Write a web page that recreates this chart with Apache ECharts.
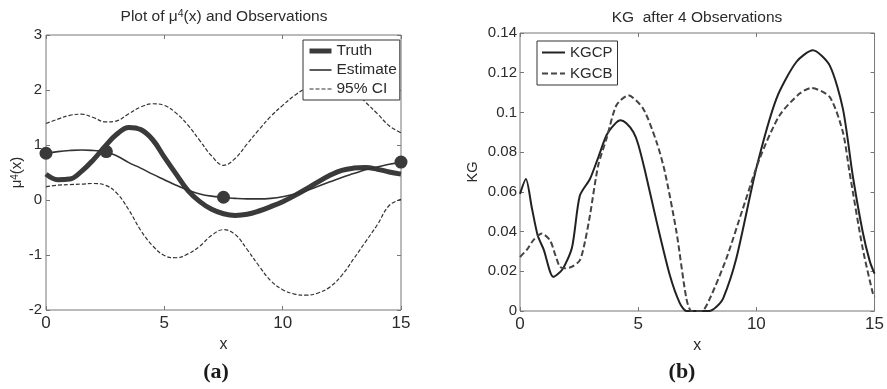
<!DOCTYPE html>
<html>
<head>
<meta charset="utf-8">
<script src="https://cdn.jsdelivr.net/npm/echarts@6/dist/echarts.min.js"></script>
<style>
  html, body { margin: 0; padding: 0; background: #fff; }
  #main { width: 887px; height: 389px; }
</style>
</head>
<body>
<div id="main"></div>
<script>
// panel (a): truth, estimate and 95% band after 4 observations
const muX = [0, 0.5, 1, 1.5, 2, 2.5, 3, 3.5, 4, 4.5, 5, 5.5, 6, 6.5, 7, 7.5,
  8, 8.5, 9, 9.5, 10, 10.5, 11, 11.5, 12, 12.5, 13, 13.5, 14, 14.5, 15];
const truth = [0.47, 0.37, 0.38, 0.52, 0.73, 0.98, 1.20, 1.32, 1.28, 1.10, 0.78,
  0.47, 0.17, -0.03, -0.17, -0.25, -0.28, -0.26, -0.20, -0.12, -0.03, 0.08, 0.20,
  0.33, 0.45, 0.54, 0.58, 0.59, 0.56, 0.51, 0.47];
const estimate = [0.85, 0.88, 0.90, 0.91, 0.90, 0.88, 0.80, 0.68, 0.58, 0.47, 0.37,
  0.27, 0.18, 0.11, 0.07, 0.05, 0.03, 0.02, 0.02, 0.03, 0.06, 0.11, 0.17, 0.25,
  0.33, 0.41, 0.48, 0.55, 0.60, 0.65, 0.68];
const ciUpper = [1.39, 1.47, 1.54, 1.56, 1.50, 1.42, 1.44, 1.57, 1.69, 1.75, 1.72,
  1.58, 1.36, 1.08, 0.80, 0.63, 0.76, 1.02, 1.28, 1.52, 1.72, 1.90, 2.04, 2.15,
  2.20, 2.15, 2.00, 1.78, 1.57, 1.35, 1.22];
const ciLower = [0.24, 0.27, 0.28, 0.29, 0.30, 0.27, 0.12, -0.18, -0.55, -0.83, -1.01,
  -1.05, -0.98, -0.84, -0.64, -0.54, -0.63, -0.90, -1.20, -1.47, -1.63, -1.71, -1.73,
  -1.69, -1.58, -1.37, -1.07, -0.76, -0.45, -0.10, 0.01];
const obsX = [0, 2.55, 7.5, 15];
const obsY = [0.85, 0.88, 0.05, 0.69];

// panel (b): knowledge gradient curves
const kgcpX = [0, 0.25, 0.5, 0.75, 1.0, 1.41, 1.8, 2.2, 2.53, 2.96, 3.3, 3.66, 4.0,
  4.25, 4.5, 4.8, 5.0, 5.28, 5.78, 6.34, 6.76, 7.04, 7.5, 8.0, 8.3, 8.6, 9.15, 10.0,
  10.85, 11.69, 12.39, 13.1, 13.66, 14.08, 14.5, 14.8, 15];
const kgcpY = [0.059, 0.0665, 0.052, 0.038, 0.031, 0.0172, 0.021, 0.032, 0.058, 0.0665,
  0.077, 0.0885, 0.094, 0.096, 0.0945, 0.090, 0.084, 0.071, 0.045, 0.018, 0.004, 0.0,
  0.0, 0.0, 0.002, 0.0065, 0.0264, 0.072, 0.107, 0.1254, 0.1313, 0.1237, 0.1019, 0.068,
  0.0398, 0.025, 0.0188];
const kgcbX = [0, 0.3, 0.56, 0.92, 1.27, 1.5, 1.69, 1.9, 2.18, 2.53, 2.75, 2.96, 3.31,
  3.66, 4.08, 4.58, 5.21, 5.78, 6.13, 6.62, 7.04, 7.25, 7.5, 7.7, 8.03, 8.73, 9.43,
  10.14, 10.98, 11.83, 12.32, 13.1, 13.66, 13.94, 14.5, 14.93, 15];
const kgcbY = [0.0272, 0.031, 0.0356, 0.039, 0.0356, 0.028, 0.0222, 0.0215, 0.0222,
  0.0255, 0.035, 0.0482, 0.0734, 0.0868, 0.1036, 0.1086, 0.1019, 0.085, 0.070, 0.0398,
  0.0062, 0.0, 0.0, 0.0, 0.0062, 0.0264, 0.0516, 0.0768, 0.0985, 0.1095, 0.1123,
  0.1078, 0.0901, 0.070, 0.0314, 0.0088, 0.007];

function pairs(xs, ys) {
  return xs.map((x, i) => [x, ys[i]]);
}

const FONT = 'Liberation Sans';
const INK = '#2b2b2b';
const TICK = { inside: true, length: 4, lineStyle: { color: '#777' } };

function boxAxis(gridIndex, position, min, max, interval) {
  return {
    gridIndex: gridIndex, position: position, type: 'value',
    min: min, max: max, interval: interval,
    axisLine: { show: false, onZero: false },
    axisTick: TICK,
    axisLabel: { show: false },
    splitLine: { show: false }
  };
}

let chart = echarts.init(document.getElementById('main'));

let option = {
  backgroundColor: '#fff',
  animation: false,
  textStyle: { fontFamily: FONT, color: INK },
  grid: [
    { left: 46, top: 35, width: 355, height: 275, show: true, borderColor: '#777', borderWidth: 1 },
    { left: 520, top: 33, width: 355, height: 278, show: true, borderColor: '#777', borderWidth: 1 }
  ],
  xAxis: [
    {
      gridIndex: 0, type: 'value', min: 0, max: 15, interval: 5, position: 'bottom',
      name: 'x', nameLocation: 'middle', nameGap: 20,
      nameTextStyle: { fontSize: 16, color: INK },
      axisLine: { show: false, onZero: false },
      axisTick: TICK,
      axisLabel: { fontSize: 17, color: INK, margin: 5 },
      splitLine: { show: false }
    },
    boxAxis(0, 'top', 0, 15, 5),
    {
      gridIndex: 1, type: 'value', min: 0, max: 15, interval: 5, position: 'bottom',
      name: 'x', nameLocation: 'middle', nameGap: 21,
      nameTextStyle: { fontSize: 16, color: INK },
      axisLine: { show: false, onZero: false },
      axisTick: TICK,
      axisLabel: { fontSize: 17, color: INK, margin: 5 },
      splitLine: { show: false }
    },
    boxAxis(1, 'top', 0, 15, 5)
  ],
  yAxis: [
    {
      gridIndex: 0, type: 'value', min: -2, max: 3, interval: 1, position: 'left',
      name: '{m|μ}{s|4}{m|(x)}', nameLocation: 'middle', nameGap: 21,
      nameTextStyle: {
        color: INK,
        rich: {
          m: { fontSize: 15, fontFamily: FONT, color: INK },
          s: { fontSize: 10, fontFamily: FONT, color: INK, verticalAlign: 'top' }
        }
      },
      axisLine: { show: false, onZero: false },
      axisTick: TICK,
      axisLabel: { fontSize: 15, color: INK, margin: 4 },
      splitLine: { show: false }
    },
    boxAxis(0, 'right', -2, 3, 1),
    {
      gridIndex: 1, type: 'value', min: 0, max: 0.14, interval: 0.02, position: 'left',
      name: 'KG', nameLocation: 'middle', nameGap: 40,
      nameTextStyle: { fontSize: 14.5, color: INK },
      axisLine: { show: false, onZero: false },
      axisTick: TICK,
      axisLabel: { fontSize: 15, color: INK, margin: 3 },
      splitLine: { show: false }
    },
    boxAxis(1, 'right', 0, 0.14, 0.02)
  ],
  legend: [
    {
      data: ['Truth', 'Estimate', '95% CI'],
      orient: 'vertical', left: 303, top: 40,
      itemWidth: 22, itemHeight: 14, itemGap: 3, itemTextGap: 2,
      padding: [3, 3, 3, 4],
      borderColor: '#333', borderWidth: 1, borderRadius: 0,
      backgroundColor: '#fff',
      itemStyle: { opacity: 0 },
      lineStyle: { width: 'inherit' },
      textStyle: { fontSize: 15.5, lineHeight: 16, color: INK, fontFamily: FONT }
    },
    {
      data: ['KGCP', 'KGCB'],
      orient: 'vertical', left: 537, top: 41,
      itemWidth: 23, itemHeight: 15, itemGap: 6, itemTextGap: 3,
      padding: [4, 5, 4, 4],
      borderColor: '#333', borderWidth: 1, borderRadius: 0,
      backgroundColor: '#fff',
      itemStyle: { opacity: 0 },
      lineStyle: { width: 'inherit' },
      textStyle: { fontSize: 15, color: INK, fontFamily: FONT }
    }
  ],
  graphic: [
    {
      type: 'text', x: 224, y: 9,
      style: {
        text: '{m|Plot of μ}{s|4}{m|(x) and Observations}',
        align: 'center', fill: INK,
        rich: {
          m: { fontSize: 15.5, fontFamily: FONT, fill: INK },
          s: { fontSize: 10.5, fontFamily: FONT, fill: INK, verticalAlign: 'top' }
        }
      }
    },
    {
      type: 'text', x: 697, y: 10,
      style: { text: 'KG  after 4 Observations', align: 'center', fontSize: 15.5, fontFamily: FONT, fill: INK }
    },
    {
      type: 'text', x: 216, y: 361,
      style: { text: '(a)', align: 'center', fontSize: 22, fontWeight: 'bold', fontFamily: 'Liberation Serif', fill: '#1a1a1a' }
    },
    {
      type: 'text', x: 682, y: 361,
      style: { text: '(b)', align: 'center', fontSize: 22, fontWeight: 'bold', fontFamily: 'Liberation Serif', fill: '#1a1a1a' }
    }
  ],
  series: [
    {
      name: 'Truth', type: 'line', xAxisIndex: 0, yAxisIndex: 0,
      data: pairs(muX, truth), smooth: 0.4, symbol: 'none', z: 3,
      lineStyle: { width: 5, color: '#3a3a3a' }, itemStyle: { color: '#3a3a3a' }
    },
    {
      name: 'Estimate', type: 'line', xAxisIndex: 0, yAxisIndex: 0,
      data: pairs(muX, estimate), smooth: 0.4, symbol: 'none', z: 4,
      lineStyle: { width: 1.6, color: '#333' }, itemStyle: { color: '#333' }
    },
    {
      name: '95% CI', type: 'line', xAxisIndex: 0, yAxisIndex: 0,
      data: pairs(muX, ciUpper), smooth: 0.4, symbol: 'none',
      lineStyle: { width: 1.2, color: '#333', type: [4, 2] }, itemStyle: { color: '#333' }
    },
    {
      name: '95% CI', type: 'line', xAxisIndex: 0, yAxisIndex: 0,
      data: pairs(muX, ciLower), smooth: 0.4, symbol: 'none',
      lineStyle: { width: 1.2, color: '#333', type: [4, 2] }, itemStyle: { color: '#333' }
    },
    {
      name: 'Observations', type: 'scatter', xAxisIndex: 0, yAxisIndex: 0,
      data: pairs(obsX, obsY), symbolSize: 13, z: 5,
      itemStyle: { color: '#3a3a3a', opacity: 1 }
    },
    {
      name: 'KGCP', type: 'line', xAxisIndex: 2, yAxisIndex: 2,
      data: pairs(kgcpX, kgcpY), smooth: 0.25, symbol: 'none',
      lineStyle: { width: 2, color: '#222' }, itemStyle: { color: '#222' }
    },
    {
      name: 'KGCB', type: 'line', xAxisIndex: 2, yAxisIndex: 2,
      data: pairs(kgcbX, kgcbY), smooth: 0.25, symbol: 'none',
      lineStyle: { width: 2, color: '#444', type: [6, 3] }, itemStyle: { color: '#444' }
    }
  ]
};

chart.setOption(option);
</script>
</body>
</html>
